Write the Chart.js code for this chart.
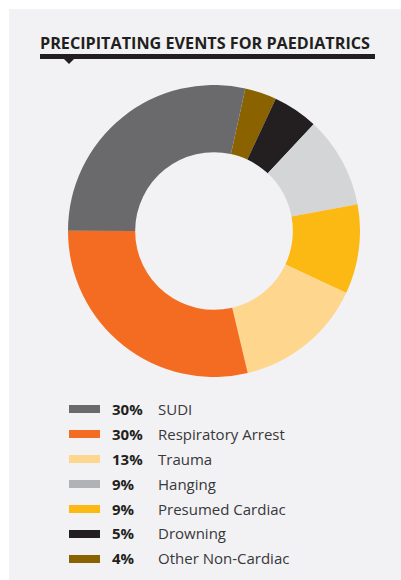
<!DOCTYPE html>
<html>
<head>
<meta charset="utf-8">
<script src="https://cdn.jsdelivr.net/npm/chart.js@4.4.1/dist/chart.umd.min.js"></script>
<style>
  html, body { margin: 0; padding: 0; background: #fff; }
  body { width: 401px; height: 580px; position: relative; overflow: hidden; font-family: "Open Sans", sans-serif; }
  #panel { position: absolute; left: 9px; top: 9px; right: 0; bottom: 0; background: #f2f2f4; }
  #title { position: absolute; left: 40px; top: 35px; font-weight: 700; font-size: 16.2px; line-height: 16px; color: #231f20; white-space: nowrap; }
  #rule { position: absolute; left: 40px; top: 54px; width: 335px; height: 5px; background: #231f20; }
  #notch { position: absolute; left: 64px; top: 59px; width: 0; height: 0; border-left: 5px solid transparent; border-right: 5px solid transparent; border-top: 5px solid #231f20; }
  #chartBox { position: absolute; left: 68px; top: 85px; width: 292px; height: 292px; }
  #legend { position: absolute; left: 69px; top: 397px; }
  .row { height: 24.9px; line-height: 24.9px; display: flex; align-items: center; font-size: 15px; white-space: nowrap; }
  .sw { width: 31px; height: 8px; margin-right: 12px; }
  .pct { width: 46px; font-weight: 700; color: #231f20; }
  .lab { color: #38373a; }
</style>
</head>
<body>
<div id="panel"></div>
<div id="title">PRECIPITATING EVENTS FOR PAEDIATRICS</div>
<div id="rule"></div>
<div id="notch"></div>
<div id="chartBox"><canvas id="donut" width="292" height="292"></canvas></div>
<div id="legend"></div>
<script>
// legend order
const categories = ['SUDI', 'Respiratory Arrest', 'Trauma', 'Hanging', 'Presumed Cardiac', 'Drowning', 'Other Non-Cardiac'];
const pctLabels = ['30%', '30%', '13%', '9%', '9%', '5%', '4%'];
const sliceValues = [28.4, 28.7, 14.3, 10.1, 9.9, 5.0, 3.5];
const sliceColors = ['#6a6a6c', '#f36c21', '#fed68e', '#d4d5d6', '#fdb913', '#231f20', '#8b6200'];
const swatchColors = ['#6a6a6c', '#f36c21', '#fed68e', '#b1b2b5', '#fdb913', '#231f20', '#8b6200'];
// order of the slices going clockwise from the top
const ringOrder = [6, 5, 3, 4, 2, 1, 0];

// legend
const legend = document.getElementById('legend');
categories.forEach(function (name, i) {
    const row = document.createElement('div');
    row.className = 'row';
    row.innerHTML = '<div class="sw" style="background:' + swatchColors[i] + '"></div>' +
        '<div class="pct">' + pctLabels[i] + '</div>' +
        '<div class="lab">' + name + '</div>';
    legend.appendChild(row);
});

const pick = function (arr) { return ringOrder.map(function (k) { return arr[k]; }); };

const ctx = document.getElementById('donut').getContext('2d');
new Chart(ctx, {
    type: 'doughnut',
    data: {
        labels: pick(categories),
        datasets: [{
            data: pick(sliceValues),
            backgroundColor: pick(sliceColors),
            borderWidth: 0
        }]
    },
    options: {
        responsive: false,
        animation: false,
        cutout: '54%',
        rotation: 12.4,
        layout: { padding: 0 },
        plugins: {
            legend: { display: false },
            tooltip: { enabled: false }
        }
    }
});
</script>
</body>
</html>
